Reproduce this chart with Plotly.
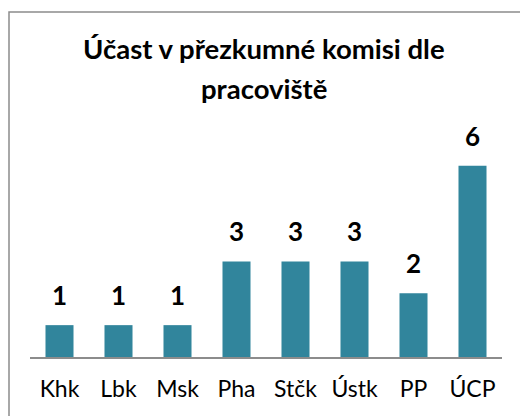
import plotly.graph_objects as go

categories = ["Khk", "Lbk", "Msk", "Pha", "Stčk", "Ústk", "PP", "ÚCP"]
values = [1, 1, 1, 3, 3, 3, 2, 6]
title_lines = ["Účast v přezkumné komisi dle", "pracoviště"]

BAR_COLOR = "#31859C"
FONT = "Lato"

W, H = 520, 416
ml, mr, mt, mb = 30, 18, 134, 59
ph = H - mt - mb

def py(pix):
    return (H - mb - pix) / ph

def px(pix):
    return (pix - ml) / (W - ml - mr)

fig = go.Figure()
fig.add_trace(go.Bar(x=categories, y=values, marker=dict(color=BAR_COLOR, line=dict(width=0)),
                     hoverinfo="skip"))

annotations = []
for c, v in zip(categories, values):
    annotations.append(dict(x=c, y=v, xref="x", yref="y", text=str(v), showarrow=False,
                            yshift=30, yanchor="middle",
                            font=dict(family=FONT, size=26, color="#000000", weight="bold")))
for i, line in enumerate(title_lines):
    annotations.append(dict(x=px(264), y=py(48 + 40 * i), xref="paper", yref="paper",
                            text=line, showarrow=False, xanchor="center", yanchor="middle",
                            font=dict(family=FONT, size=27.5, color="#000000", weight="bold")))

fig.update_layout(
    width=W, height=H,
    margin=dict(l=ml, r=mr, t=mt, b=mb, pad=0),
    paper_bgcolor="white", plot_bgcolor="white",
    bargap=0.525,
    showlegend=False,
    annotations=annotations,
    shapes=[dict(type="rect", xref="paper", yref="paper",
                 x0=px(9), x1=px(560), y0=py(12), y1=py(460),
                 line=dict(color="#8C8C8C", width=1.5), layer="below")],
    xaxis=dict(showline=True, linecolor="#8C8C8C", linewidth=1.5, ticks="",
               showgrid=False, zeroline=False, automargin=False,
               ticklabelstandoff=11,
               tickfont=dict(family=FONT, size=23, color="#000000")),
    yaxis=dict(range=[0, 7], visible=False, showgrid=False, zeroline=False),
)

fig.write_html("out.html", config={"displayModeBar": False},
               post_script="document.body.style.margin='0';document.body.style.padding='0';")
